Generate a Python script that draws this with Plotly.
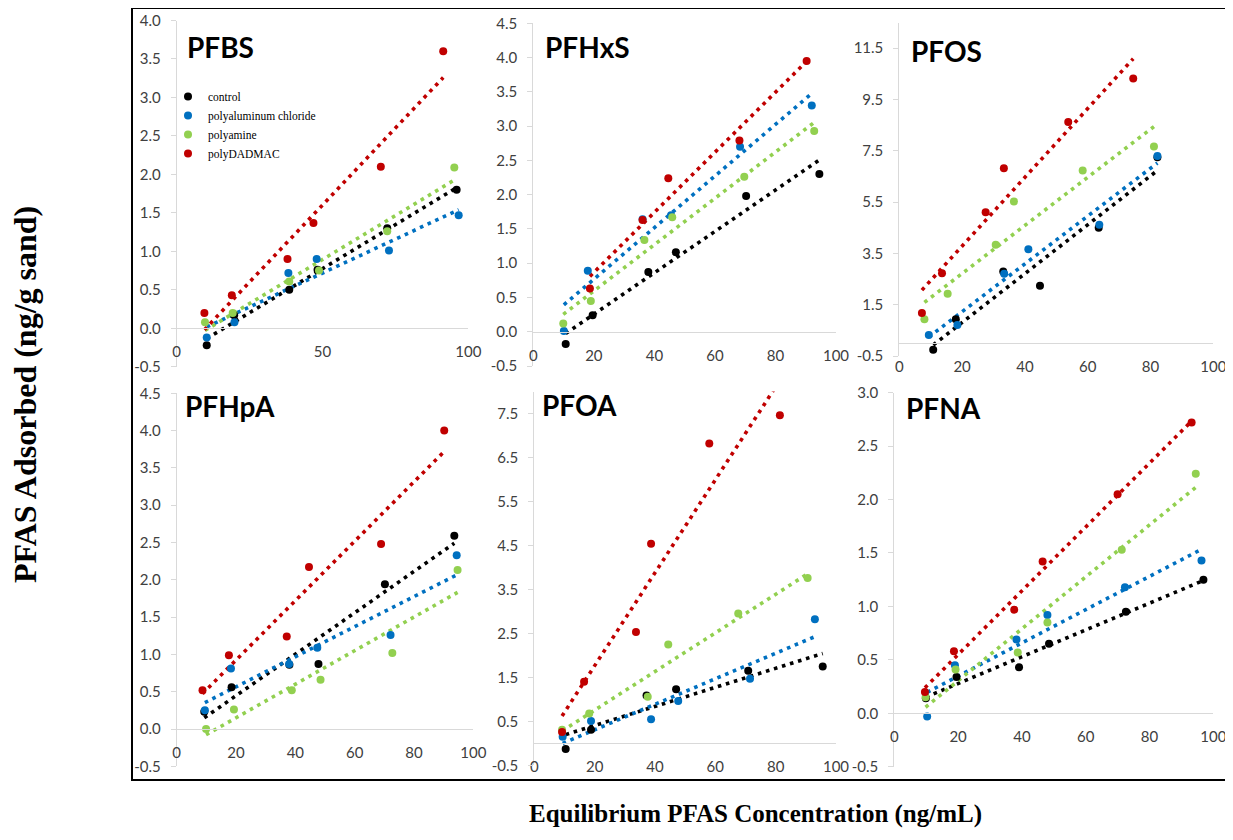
import numpy as np
import plotly.graph_objects as go

W, H = 1233, 840
OFF = 8  # the page body adds an 8 px margin; pixel positions below are page pixels

series_names = ["control", "polyaluminum chloride", "polyamine", "polyDADMAC"]
series_colors = ["#000000", "#0070C0", "#92D050", "#C00000"]
panel_names = ["PFBS", "PFHxS", "PFOS", "PFHpA", "PFOA", "PFNA"]

# ---- data (equilibrium concentration ng/mL, adsorbed ng/g) ; order: control, PAC, polyamine, polyDADMAC
PFBS_x = [[10.3, 19.7, 38.6, 48.3, 72.2, 96.0],
          [10.3, 19.8, 38.3, 48.0, 72.8, 96.7],
          [9.7, 19.2, 38.6, 48.8, 72.2, 95.2],
          [9.5, 18.9, 38.0, 46.9, 70.0, 91.4]]
PFBS_y = [[-0.22, 0.17, 0.50, 0.76, 1.30, 1.80],
          [-0.12, 0.08, 0.72, 0.90, 1.01, 1.47],
          [0.08, 0.20, 0.61, 0.75, 1.26, 2.09],
          [0.20, 0.43, 0.90, 1.37, 2.10, 3.60]]

PFHxS_x = [[10.7, 19.6, 38.0, 47.1, 70.3, 94.5],
           [10.1, 18.0, 36.1, 45.5, 68.3, 92.0],
           [9.9, 19.0, 36.7, 45.9, 69.7, 92.8],
           [18.7, 36.1, 44.6, 68.1, 90.3]]
PFHxS_y = [[-0.18, 0.24, 0.87, 1.16, 1.98, 2.30],
           [0.01, 0.89, 1.64, 1.70, 2.70, 3.30],
           [0.12, 0.45, 1.34, 1.67, 2.26, 2.93],
           [0.63, 1.63, 2.24, 2.79, 3.95]]

PFOS_x = [[10.8, 18.0, 33.1, 44.8, 63.5, 82.2],
          [9.4, 18.5, 33.4, 41.1, 63.7, 82.2],
          [8.0, 15.4, 30.7, 36.5, 58.4, 81.1],
          [7.2, 13.6, 27.5, 33.3, 53.8, 74.5]]
PFOS_y = [[-0.25, 0.94, 2.80, 2.24, 4.50, 7.25],
          [0.33, 0.72, 2.71, 3.67, 4.62, 7.30],
          [0.94, 1.93, 3.84, 5.53, 6.73, 7.67],
          [1.18, 2.73, 5.11, 6.82, 8.62, 10.32]]

PFHpA_x = [[9.3, 18.5, 38.0, 47.8, 70.2, 93.6],
           [9.5, 18.3, 37.9, 47.4, 72.1, 94.4],
           [9.9, 19.3, 38.8, 48.5, 72.7, 94.7],
           [8.7, 17.6, 37.1, 44.6, 68.9, 90.2]]
PFHpA_y = [[0.23, 0.56, 0.86, 0.87, 1.94, 2.59],
           [0.25, 0.81, 0.87, 1.09, 1.26, 2.33],
           [0.00, 0.26, 0.52, 0.66, 1.02, 2.13],
           [0.52, 0.99, 1.24, 2.17, 2.48, 4.00]]

PFOA_x = [[10.4, 18.8, 37.2, 47.0, 70.9, 95.6],
          [9.4, 18.8, 38.7, 47.7, 71.5, 93.0],
          [9.2, 18.2, 37.6, 44.4, 67.6, 90.6],
          [9.2, 16.5, 33.7, 38.7, 58.0, 81.4]]
PFOA_y = [[-0.13, 0.31, 1.09, 1.23, 1.65, 1.75],
          [0.15, 0.51, 0.55, 0.96, 1.47, 2.82],
          [0.31, 0.68, 1.06, 2.25, 2.95, 3.76],
          [0.26, 1.40, 2.53, 4.54, 6.82, 7.46]]

PFNA_x = [[9.9, 19.5, 39.1, 48.5, 72.6, 96.9],
          [10.3, 19.0, 38.3, 48.0, 72.3, 96.3],
          [9.8, 19.2, 38.7, 48.0, 71.3, 94.5],
          [9.6, 18.7, 37.6, 46.5, 70.0, 93.2]]
PFNA_y = [[0.14, 0.34, 0.43, 0.65, 0.95, 1.25],
          [-0.03, 0.45, 0.69, 0.92, 1.18, 1.43],
          [0.15, 0.41, 0.57, 0.85, 1.53, 2.24],
          [0.20, 0.58, 0.97, 1.42, 2.05, 2.72]]

# ---- axes: ranges and tick labels
y_ranges = [(-0.5, 4.0), (-0.5, 4.5), (-0.5, 12.5), (-0.5, 4.5), (-0.5, 8.0), (-0.5, 3.0)]
PFBS_yticks = ["-0.5", "0.0", "0.5", "1.0", "1.5", "2.0", "2.5", "3.0", "3.5", "4.0"]
PFHxS_yticks = ["-0.5", "0.0", "0.5", "1.0", "1.5", "2.0", "2.5", "3.0", "3.5", "4.0", "4.5"]
PFOS_yticks = ["-0.5", "1.5", "3.5", "5.5", "7.5", "9.5", "11.5"]
PFHpA_yticks = ["-0.5", "0.0", "0.5", "1.0", "1.5", "2.0", "2.5", "3.0", "3.5", "4.0", "4.5"]
PFOA_yticks = ["-0.5", "0.5", "1.5", "2.5", "3.5", "4.5", "5.5", "6.5", "7.5"]
PFNA_yticks = ["-0.5", "0.0", "0.5", "1.0", "1.5", "2.0", "2.5", "3.0"]
xticks_50 = ["0", "50", "100"]
xticks_20 = ["0", "20", "40", "60", "80", "100"]

panel_x = [PFBS_x, PFHxS_x, PFOS_x, PFHpA_x, PFOA_x, PFNA_x]
panel_y = [PFBS_y, PFHxS_y, PFOS_y, PFHpA_y, PFOA_y, PFNA_y]
panel_yticks = [PFBS_yticks, PFHxS_yticks, PFOS_yticks, PFHpA_yticks, PFOA_yticks, PFNA_yticks]
panel_xticks = [xticks_50, xticks_20, xticks_20, xticks_20, xticks_20, xticks_20]

# ---- layout geometry (page pixels): x of value 0, x of value 100, top, bottom of plot area
geom = [(176.7, 468.3, 20.5, 366.8),
        (533.3, 836.0, 23.3, 366.0),
        (899.3, 1213.3, 22.5, 356.2),
        (176.7, 473.3, 393.3, 766.3),
        (534.3, 836.0, 391.6, 765.3),
        (894.3, 1213.3, 392.6, 766.8)]
title_pos = [(185, 47), (543, 47), (909, 51), (183, 406), (540, 405), (904, 408)]


def px(x):
    return (x - OFF) / W


def py(y):
    return 1 - (y - OFF) / H


tick_font = dict(family="Lato", size=15, color="#404040")
axis_gray = "#d9d9d9"

fig = go.Figure()
layout = dict(width=W, height=H, margin=dict(l=0, r=0, t=0, b=0, pad=0, autoexpand=False),
              paper_bgcolor="white", plot_bgcolor="white", showlegend=True)

annotations = []
for i in range(6):
    n = i + 1
    xs = "x" if n == 1 else f"x{n}"
    ys = "y" if n == 1 else f"y{n}"
    x0p, x1p, tp, bp = geom[i]
    ymin, ymax = y_ranges[i]
    xd = [px(x0p), px(x1p)]
    yd = [py(bp), py(tp)]
    zero_pos = yd[0] + (0 - ymin) / (ymax - ymin) * (yd[1] - yd[0])
    yt_text = panel_yticks[i]
    yt_vals = [float(t) for t in yt_text]
    xt_text = panel_xticks[i]
    xt_vals = [float(t) for t in xt_text]

    layout["xaxis" if n == 1 else f"xaxis{n}"] = dict(
        domain=xd, range=[0, 100], anchor="free", position=zero_pos,
        showline=True, linecolor=axis_gray, linewidth=1, showgrid=False, zeroline=False,
        ticks="", tickvals=xt_vals, ticktext=xt_text, tickfont=tick_font,
        ticklabelstandoff=10, fixedrange=True, automargin=False)
    layout["yaxis" if n == 1 else f"yaxis{n}"] = dict(
        domain=yd, range=[ymin, ymax], anchor=xs,
        showline=True, linecolor=axis_gray, linewidth=1, showgrid=False, zeroline=False,
        ticks="outside", ticklen=5, tickcolor=axis_gray, tickwidth=1,
        tickvals=yt_vals, ticktext=yt_text, tickfont=tick_font,
        ticklabelstandoff=7, fixedrange=True, automargin=False)

    # trendlines (linear least squares over each series' x-range)
    for s in range(4):
        xv = np.array(panel_x[i][s])
        yv = np.array(panel_y[i][s])
        k, b = np.polyfit(xv, yv, 1)
        xl = np.array([xv.min(), xv.max()])
        fig.add_trace(go.Scatter(
            x=xl, y=k * xl + b, mode="lines", xaxis=xs, yaxis=ys,
            line=dict(color=series_colors[s], width=3.6, dash="3.6px,4.8px"),
            showlegend=False, hoverinfo="skip"))
    # data points
    for s in range(4):
        fig.add_trace(go.Scatter(
            x=panel_x[i][s], y=panel_y[i][s], mode="markers", xaxis=xs, yaxis=ys,
            name=series_names[s],
            marker=dict(color=series_colors[s], size=8, line=dict(width=0)),
            showlegend=(i == 0)))

    annotations.append(dict(
        text=f"<b>{panel_names[i]}</b>", xref="paper", yref="paper",
        x=px(title_pos[i][0]), y=py(title_pos[i][1]), xanchor="left", yanchor="middle",
        showarrow=False, font=dict(family="Lato", size=28, color="#000000")))

annotations.append(dict(
    text="<b>PFAS Adsorbed (ng/g sand)</b>", xref="paper", yref="paper",
    x=px(25), y=py(395), xanchor="center", yanchor="middle", textangle=-90,
    showarrow=False, font=dict(family="Liberation Serif", size=32, color="#000000")))
annotations.append(dict(
    text="<b>Equilibrium PFAS Concentration (ng/mL)</b>", xref="paper", yref="paper",
    x=px(755), y=py(814), xanchor="center", yanchor="middle",
    showarrow=False, font=dict(family="Liberation Serif", size=25, color="#000000")))

layout["annotations"] = annotations
layout["shapes"] = [dict(type="rect", xref="paper", yref="paper",
                         x0=px(132), x1=px(1229), y0=py(780), y1=py(8),
                         line=dict(color="#000000", width=2), fillcolor="rgba(0,0,0,0)")]
layout["legend"] = dict(x=px(168), y=py(82), xanchor="left", yanchor="top",
                        bgcolor="rgba(0,0,0,0)", borderwidth=0, itemwidth=30,
                        tracegroupgap=0,
                        font=dict(family="Liberation Serif", size=11.5, color="#000000"),
                        itemclick=False, itemdoubleclick=False)

fig.update_layout(**layout)
fig.write_html("out.html")
